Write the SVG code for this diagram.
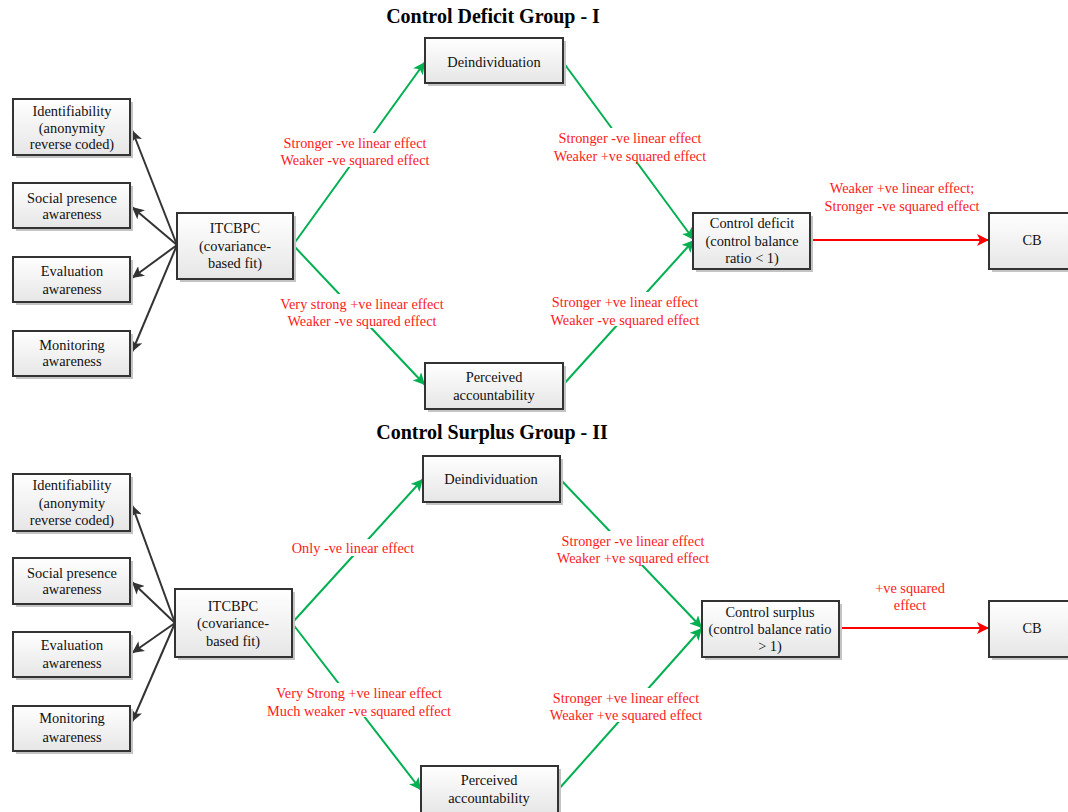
<svg xmlns="http://www.w3.org/2000/svg" width="1068" height="812" viewBox="0 0 1068 812">
<style>
.box{fill:url(#g);stroke:#333;stroke-width:2}
.sh{fill:#c4c4c4}
.t{font-family:"Liberation Serif","Times New Roman",serif;font-size:14.4px;fill:#111;text-anchor:middle}
.r{font-family:"Liberation Serif","Times New Roman",serif;font-size:14.3px;fill:#ff1a1a;text-anchor:middle}
.h{font-family:"Liberation Serif","Times New Roman",serif;font-size:20px;font-weight:bold;fill:#000;text-anchor:middle}
.k{stroke:#333;stroke-width:2;fill:none}
.gr{stroke:#00b050;stroke-width:2;fill:none}
.rd{stroke:#ff0000;stroke-width:2;fill:none}
.bg{fill:#fff}
</style>
<defs>
<linearGradient id="g" x1="0" y1="0" x2="0" y2="1">
<stop offset="0" stop-color="#ffffff"/>
<stop offset="1" stop-color="#e6e6e6"/>
</linearGradient>
<marker id="ak" markerUnits="userSpaceOnUse" markerWidth="14" markerHeight="12" refX="12" refY="6" orient="auto"><path d="M0,0 L12,6 L0,12 L3,6 z" fill="#333"/></marker>
<marker id="ag" markerUnits="userSpaceOnUse" markerWidth="14" markerHeight="12" refX="12" refY="6" orient="auto"><path d="M0,0 L12,6 L0,12 L3,6 z" fill="#00b050"/></marker>
<marker id="ar" markerUnits="userSpaceOnUse" markerWidth="14" markerHeight="12" refX="12" refY="6" orient="auto"><path d="M0,0 L12,6 L0,12 L3,6 z" fill="#ff0000"/></marker>
</defs>
<rect width="1068" height="812" fill="#fff"/>
<text class="h" x="493" y="23">Control Deficit Group - I</text>
<text class="h" x="492" y="439">Control Surplus Group - II</text>

<g id="connectors">
<line class="k" x1="177" y1="245" x2="132" y2="130" marker-end="url(#ak)"/>
<line class="k" x1="177" y1="245" x2="132" y2="207" marker-end="url(#ak)"/>
<line class="k" x1="177" y1="245" x2="132" y2="278" marker-end="url(#ak)"/>
<line class="k" x1="177" y1="245" x2="132" y2="352" marker-end="url(#ak)"/>
<line class="gr" x1="293" y1="245" x2="425" y2="62" marker-end="url(#ag)"/>
<line class="gr" x1="293" y1="245" x2="425" y2="385" marker-end="url(#ag)"/>
<line class="gr" x1="563" y1="62" x2="694" y2="240" marker-end="url(#ag)"/>
<line class="gr" x1="563" y1="385" x2="694" y2="240" marker-end="url(#ag)"/>
<line class="rd" x1="810" y1="240" x2="989" y2="240" marker-end="url(#ar)"/>

<line class="k" x1="175" y1="623" x2="132" y2="505" marker-end="url(#ak)"/>
<line class="k" x1="175" y1="623" x2="132" y2="582" marker-end="url(#ak)"/>
<line class="k" x1="175" y1="623" x2="132" y2="653" marker-end="url(#ak)"/>
<line class="k" x1="175" y1="623" x2="132" y2="722" marker-end="url(#ak)"/>
<line class="gr" x1="292" y1="623" x2="423" y2="479" marker-end="url(#ag)"/>
<line class="gr" x1="292" y1="623" x2="421" y2="790" marker-end="url(#ag)"/>
<line class="gr" x1="560" y1="479" x2="702" y2="628" marker-end="url(#ag)"/>
<line class="gr" x1="558" y1="790" x2="702" y2="628" marker-end="url(#ag)"/>
<line class="rd" x1="839" y1="628" x2="989" y2="628" marker-end="url(#ar)"/>
</g>

<g id="labels">
<rect class="bg" x="279" y="133" width="153" height="34"/>
<text class="r" x="355" y="148">Stronger -ve linear effect</text>
<text class="r" x="355" y="165">Weaker -ve squared effect</text>
<rect class="bg" x="551" y="128" width="160" height="34"/>
<text class="r" x="630" y="143">Stronger -ve linear effect</text>
<text class="r" x="630" y="161">Weaker +ve squared effect</text>
<text class="r" x="902" y="193">Weaker +ve linear effect;</text>
<text class="r" x="902" y="211">Stronger -ve squared effect</text>
<rect class="bg" x="276" y="294" width="172" height="34"/>
<text class="r" x="362" y="309">Very strong +ve linear effect</text>
<text class="r" x="362" y="326">Weaker -ve squared effect</text>
<rect class="bg" x="545" y="292" width="160" height="34"/>
<text class="r" x="625" y="307">Stronger +ve linear effect</text>
<text class="r" x="625" y="325">Weaker -ve squared effect</text>

<rect class="bg" x="288" y="539" width="131" height="17"/>
<text class="r" x="353" y="553">Only -ve linear effect</text>
<rect class="bg" x="553" y="531" width="160" height="34"/>
<text class="r" x="633" y="546">Stronger -ve linear effect</text>
<text class="r" x="633" y="563">Weaker +ve squared effect</text>
<text class="r" x="910" y="593">+ve squared</text>
<text class="r" x="910" y="610">effect</text>
<rect class="bg" x="263" y="683" width="192" height="34"/>
<text class="r" x="359" y="698">Very Strong +ve linear effect</text>
<text class="r" x="359" y="716">Much weaker -ve squared effect</text>
<rect class="bg" x="546" y="688" width="160" height="34"/>
<text class="r" x="626" y="703">Stronger +ve linear effect</text>
<text class="r" x="626" y="720">Weaker +ve squared effect</text>
</g>

<g id="n1-ident"><rect class="sh" x="16" y="102" width="117" height="56"/><rect class="box" x="13" y="99" width="117" height="56"/>
<text class="t" x="72" y="116">Identifiability</text><text class="t" x="72" y="133">(anonymity</text><text class="t" x="72" y="149">reverse coded)</text></g>
<g id="n1-social"><rect class="sh" x="16" y="186" width="117" height="45"/><rect class="box" x="13" y="183" width="117" height="45"/>
<text class="t" x="72" y="203">Social presence</text><text class="t" x="72" y="219">awareness</text></g>
<g id="n1-eval"><rect class="sh" x="16" y="260" width="117" height="45"/><rect class="box" x="13" y="257" width="117" height="45"/>
<text class="t" x="72" y="276">Evaluation</text><text class="t" x="72" y="294">awareness</text></g>
<g id="n1-mon"><rect class="sh" x="16" y="334" width="117" height="45"/><rect class="box" x="13" y="331" width="117" height="45"/>
<text class="t" x="72" y="350">Monitoring</text><text class="t" x="72" y="366">awareness</text></g>
<g id="n1-itcbpc"><rect class="sh" x="180" y="216" width="116" height="66"/><rect class="box" x="177" y="213" width="116" height="66"/>
<text class="t" x="235" y="233">ITCBPC</text><text class="t" x="235" y="251">(covariance-</text><text class="t" x="235" y="268">based fit)</text></g>
<g id="n1-deind"><rect class="sh" x="428" y="41" width="138" height="45"/><rect class="box" x="425" y="38" width="138" height="45"/>
<text class="t" x="494" y="67">Deindividuation</text></g>
<g id="n1-perc"><rect class="sh" x="428" y="366" width="138" height="46"/><rect class="box" x="425" y="363" width="138" height="46"/>
<text class="t" x="494" y="382">Perceived</text><text class="t" x="494" y="400">accountability</text></g>
<g id="n1-deficit"><rect class="sh" x="696" y="216" width="117" height="56"/><rect class="box" x="693" y="213" width="117" height="56"/>
<text class="t" x="752" y="228">Control deficit</text><text class="t" x="752" y="246">(control balance</text><text class="t" x="752" y="263">ratio &lt; 1)</text></g>
<g id="n1-cb"><rect class="sh" x="992" y="216" width="86" height="56"/><rect class="box" x="989" y="213" width="86" height="56"/>
<text class="t" x="1032" y="245">CB</text></g>

<g id="n2-ident"><rect class="sh" x="16" y="477" width="117" height="57"/><rect class="box" x="13" y="474" width="117" height="57"/>
<text class="t" x="72" y="490">Identifiability</text><text class="t" x="72" y="508">(anonymity</text><text class="t" x="72" y="525">reverse coded)</text></g>
<g id="n2-social"><rect class="sh" x="16" y="561" width="117" height="46"/><rect class="box" x="13" y="558" width="117" height="46"/>
<text class="t" x="72" y="578">Social presence</text><text class="t" x="72" y="594">awareness</text></g>
<g id="n2-eval"><rect class="sh" x="16" y="635" width="117" height="45"/><rect class="box" x="13" y="632" width="117" height="45"/>
<text class="t" x="72" y="650">Evaluation</text><text class="t" x="72" y="668">awareness</text></g>
<g id="n2-mon"><rect class="sh" x="16" y="709" width="117" height="45"/><rect class="box" x="13" y="706" width="117" height="45"/>
<text class="t" x="72" y="723">Monitoring</text><text class="t" x="72" y="742">awareness</text></g>
<g id="n2-itcbpc"><rect class="sh" x="178" y="592" width="117" height="68"/><rect class="box" x="175" y="589" width="117" height="68"/>
<text class="t" x="233" y="611">ITCBPC</text><text class="t" x="233" y="628">(covariance-</text><text class="t" x="233" y="646">based fit)</text></g>
<g id="n2-deind"><rect class="sh" x="426" y="459" width="137" height="46"/><rect class="box" x="423" y="456" width="137" height="46"/>
<text class="t" x="491" y="484">Deindividuation</text></g>
<g id="n2-perc"><rect class="sh" x="424" y="769" width="137" height="48"/><rect class="box" x="421" y="766" width="137" height="48"/>
<text class="t" x="489" y="785">Perceived</text><text class="t" x="489" y="803">accountability</text></g>
<g id="n2-surplus"><rect class="sh" x="705" y="604" width="137" height="56"/><rect class="box" x="702" y="601" width="137" height="56"/>
<text class="t" x="770" y="617">Control surplus</text><text class="t" x="770" y="634">(control balance ratio</text><text class="t" x="770" y="651">&gt; 1)</text></g>
<g id="n2-cb"><rect class="sh" x="992" y="604" width="86" height="56"/><rect class="box" x="989" y="601" width="86" height="56"/>
<text class="t" x="1032" y="633">CB</text></g>
</svg>
